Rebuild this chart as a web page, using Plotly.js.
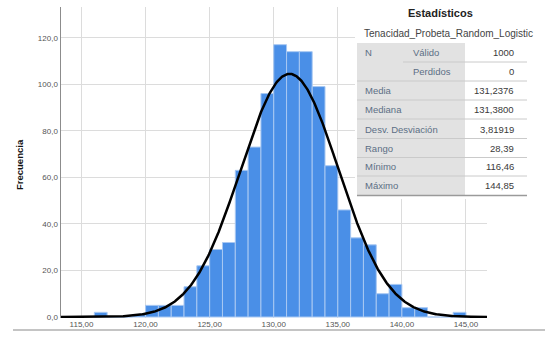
<!DOCTYPE html>
<html>
<head>
<meta charset="utf-8">
<script src="https://cdn.plot.ly/plotly-3.0.1.min.js"></script>
<style>html,body{margin:0;padding:0;background:#fff;overflow:hidden}#chart{width:553px;height:341px}</style>
</head>
<body>
<div id="chart"></div>
<script>
// Histogram data (bins of width 1)
const binCenters = [116.5,117.5,118.5,119.5,120.5,121.5,122.5,123.5,124.5,125.5,126.5,127.5,128.5,129.5,130.5,131.5,132.5,133.5,134.5,135.5,136.5,137.5,138.5,139.5,140.5,141.5,142.5,143.5,144.5];
const counts = [2,0,0,1,5,5,5,13,22,29,32,63,73,96,117,114,114,99,65,46,34,31,10,14,4,4,0,0,2];
const binWidth = 1;

// Statistics table
const statTitle = "Estadísticos";
const varName = "Tenacidad_Probeta_Random_Logistic";
const statLabels = ["Válido","Perdidos","Media","Mediana","Desv. Desviación","Rango","Mínimo","Máximo"];
const statValues = ["1000","0","131,2376","131,3800","3,81919","28,39","116,46","144,85"];
const nValid = 1000, mean = 131.2376, sd = 3.81919;

const xTicks = [115,120,125,130,135,140,145];
const yTicks = [0,20,40,60,80,100,120];

// Normal curve from the table statistics
const curveX = [], curveY = [];
const amp = nValid * binWidth / (sd * Math.sqrt(2 * Math.PI));
for (let x = 113.4; x <= 146.7; x += 0.05) {
  curveX.push(x);
  curveY.push(amp * Math.exp(-0.5 * Math.pow((x - mean) / sd, 2)));
}

// pixel -> paper helpers (plot area x 61..487, y 7..318)
const L = 61, W = 426, B = 318, H = 311;
const px = p => (p - L) / W;
const py = p => (B - p) / H;

const font = "Liberation Sans, Arial, sans-serif";
const shapes = [];
const annotations = [];

// white box behind the table
shapes.push({type:'rect', xref:'paper', yref:'paper', x0:px(355), x1:px(560), y0:py(199), y1:py(-2), fillcolor:'#ffffff', line:{width:0}, layer:'above'});
// gray label column
shapes.push({type:'rect', xref:'paper', yref:'paper', x0:px(357), x1:px(465), y0:py(195), y1:py(43), fillcolor:'#e2e2e2', line:{width:0}, layer:'above'});
// row dividers
const rowTops = [43,62,81,100,119,138.5,157.5,176,195];
for (let i = 1; i < rowTops.length - 1; i++) {
  const x0 = (i === 1) ? 403 : 357;
  shapes.push({type:'line', xref:'paper', yref:'paper', x0:px(x0), x1:px(527), y0:py(rowTops[i]), y1:py(rowTops[i]), line:{color:'#cacaca', width:1}, layer:'above'});
}
// bottom border
shapes.push({type:'line', xref:'paper', yref:'paper', x0:px(357), x1:px(527), y0:py(195.5), y1:py(195.5), line:{color:'#9a9a9a', width:1.5}, layer:'above'});
// bottom separator line of the figure
shapes.push({type:'line', xref:'paper', yref:'paper', x0:px(13), x1:px(545), y0:py(330), y1:py(330), line:{color:'#c4c4c4', width:2}, layer:'above'});

annotations.push({xref:'paper', yref:'paper', x:px(440.5), y:py(13), text:'<b>' + statTitle + '</b>', showarrow:false, xanchor:'center', yanchor:'middle', font:{family:font, size:11, color:'#222'}});
annotations.push({xref:'paper', yref:'paper', x:px(362), y:py(33), text:varName, showarrow:false, xanchor:'left', yanchor:'middle', font:{family:font, size:10, color:'#444'}});
annotations.push({xref:'paper', yref:'paper', x:px(363), y:py(52.5), text:'N', showarrow:false, xanchor:'left', yanchor:'middle', font:{family:font, size:9.5, color:'#5c6f85'}});
const rowY = [52.5,71.5,90.5,109.5,129.3,148.3,166.7,185.5];
for (let i = 0; i < statLabels.length; i++) {
  const lx = (i < 2) ? 411 : 363;
  annotations.push({xref:'paper', yref:'paper', x:px(lx), y:py(rowY[i]), text:statLabels[i], showarrow:false, xanchor:'left', yanchor:'middle', font:{family:font, size:9.5, color:'#5c6f85'}});
  annotations.push({xref:'paper', yref:'paper', x:px(516), y:py(rowY[i]), text:statValues[i], showarrow:false, xanchor:'right', yanchor:'middle', font:{family:font, size:9.5, color:'#3a3a3a'}});
}
// y axis title
annotations.push({xref:'paper', yref:'paper', x:px(19), y:py(165), text:'<b>Frecuencia</b>', textangle:-90, showarrow:false, xanchor:'center', yanchor:'middle', font:{family:font, size:9.5, color:'#111'}});

const traces = [
  {type:'bar', x:binCenters, y:counts, width:binWidth, marker:{color:'#4a8fe7', line:{color:'#a8c8f2', width:1}}, hoverinfo:'skip'},
  {type:'scatter', mode:'lines', x:curveX, y:curveY, line:{color:'#000', width:2.5}, hoverinfo:'skip'}
];

const layout = {
  width:553, height:341,
  margin:{l:61, r:66, t:7, b:23},
  paper_bgcolor:'#fff', plot_bgcolor:'#fff',
  separators:',.',
  showlegend:false,
  bargap:0,
  font:{family:font, size:8, color:'#555'},
  xaxis:{range:[113.4,146.64], tickvals:xTicks, tickformat:'.2f', showgrid:true, gridcolor:'#dcdcdc', gridwidth:1, zeroline:false, showline:false, ticks:'', tickfont:{size:8, color:'#555'}},
  yaxis:{range:[-0.43,133.19], tickvals:yTicks, tickformat:'.1f', showgrid:true, gridcolor:'#dcdcdc', gridwidth:1, zeroline:false, showline:true, linecolor:'#8c8c8c', linewidth:1.5, ticks:'', tickfont:{size:8, color:'#555'}},
  shapes:shapes,
  annotations:annotations
};

Plotly.newPlot('chart', traces, layout, {staticPlot:true, displayModeBar:false});
</script>
</body>
</html>
